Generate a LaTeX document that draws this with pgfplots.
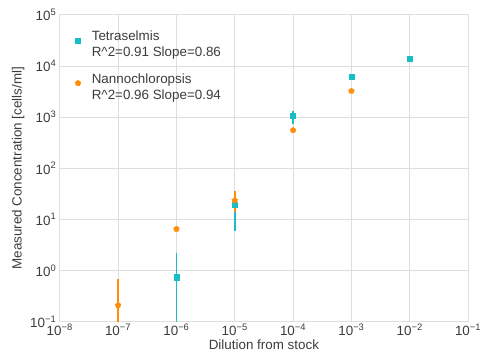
\documentclass[border=0pt]{standalone}
\usepackage{fontspec}
\setmainfont{Liberation Sans}
\usepackage{pgfplots}
\pgfplotsset{compat=1.18}
\definecolor{teal1}{RGB}{23,190,200}
\definecolor{orng}{RGB}{255,140,10}
\definecolor{gridc}{RGB}{222,222,222}
\definecolor{txt}{RGB}{60,60,60}
\begin{document}
\begin{tikzpicture}[x=1bp,y=1bp]
\begin{axis}[
  name=ax,
  scale only axis,
  width=410bp, height=308bp,
  xmode=log, ymode=log,
  xmin=1e-8, xmax=1e-1, ymin=1e-1, ymax=1e5,
  xtick={1e-8,1e-7,1e-6,1e-5,1e-4,1e-3,1e-2,1e-1},
  xticklabels={10\textsuperscript{−8},10\textsuperscript{−7},10\textsuperscript{−6},10\textsuperscript{−5},10\textsuperscript{−4},10\textsuperscript{−3},10\textsuperscript{−2},10\textsuperscript{−1}},
  ytick={1e-1,1,10,100,1000,1e4,1e5},
  yticklabels={10\textsuperscript{−1},10\textsuperscript{0},10\textsuperscript{1},10\textsuperscript{2},10\textsuperscript{3},10\textsuperscript{4},10\textsuperscript{5}},
  xminorticks=false, yminorticks=false,
  grid=major,
  major grid style={draw=gridc, line width=1.1bp},
  axis line style={draw=gridc, line width=1.1bp},
  major tick length=0pt,
  tick label style={font=\fontsize{13.5}{15}\selectfont, text=txt},
  xticklabel style={yshift=1bp},
  label style={font=\fontsize{13.5}{15}\selectfont, text=txt},
  xlabel={Dilution from stock},
  ylabel={Measured Concentration [cells/ml]},
  xlabel style={yshift=3bp},
  ylabel style={yshift=-1bp},
  unbounded coords=jump,
  legend style={draw=none, fill=none, at={(0.03,0.965)}, anchor=north west,
    font=\fontsize{13.5}{16}\selectfont, text=txt, row sep=18bp, column sep=9bp},
  legend cell align=left,
  clip=true,
]
% error bars
\addplot[draw=teal1, line width=1.6bp, forget plot] coordinates {
 (1e-6,0.1) (1e-6,2.2) (1e-6,nan)
 (1e-5,5.9) (1e-5,22) (1e-5,nan)
 (1e-4,740) (1e-4,1350) (1e-4,nan)
 (1e-3,5600) (1e-3,6600) (1e-3,nan)
 (1e-2,13000) (1e-2,14800)
};
\addplot[draw=orng, line width=1.6bp, forget plot] coordinates {
 (1e-7,0.1) (1e-7,0.67) (1e-7,nan)
 (1e-6,6.0) (1e-6,7.0) (1e-6,nan)
 (1e-5,14) (1e-5,35.6) (1e-5,nan)
 (1e-4,520) (1e-4,600) (1e-4,nan)
 (1e-3,3100) (1e-3,3400)
};
\addplot[only marks, mark=square*, mark size=2.6bp, teal1, mark options={draw=teal1, fill=teal1, line width=0.4bp}] coordinates {
 (1e-6,0.74) (1e-5,19.4) (1e-4,1050) (1e-3,6100) (1e-2,13900)
};
\addlegendentry{\begin{tabular}{@{}l@{}}Tetraselmis\\R\textasciicircum 2=0.91 Slope=0.86\end{tabular}}
\addplot[only marks, mark=pentagon*, mark size=3bp, orng, mark options={draw=orng, fill=orng, line width=0.4bp}] coordinates {
 (1e-7,0.21) (1e-6,6.5) (1e-5,23.5) (1e-4,555) (1e-3,3240)
};
\addlegendentry{\begin{tabular}{@{}l@{}}Nannochloropsis\\R\textasciicircum 2=0.96 Slope=0.94\end{tabular}}
\end{axis}
\pgfresetboundingbox
\useasboundingbox ([xshift=-60bp,yshift=-36bp]ax.south west) rectangle ([xshift=18bp,yshift=15bp]ax.north east);
\end{tikzpicture}
\end{document}
